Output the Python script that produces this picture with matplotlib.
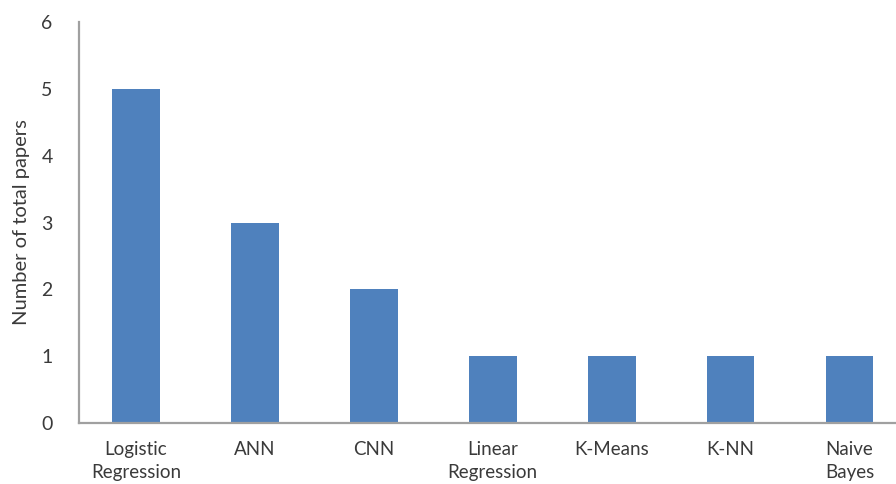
import matplotlib
matplotlib.use("Agg")
import matplotlib.pyplot as plt

# Number of papers per machine-learning method
methods = ["Logistic\nRegression", "ANN", "CNN", "Linear\nRegression",
           "K-Means", "K-NN", "Naive\nBayes"]
paper_counts = [5, 3, 2, 1, 1, 1, 1]
y_ticks = [0, 1, 2, 3, 4, 5, 6]

plt.rcParams["font.family"] = ["Lato", "DejaVu Sans"]

fig = plt.figure(figsize=(8.96, 4.84), dpi=100)
ax = fig.add_axes([0.0882, 0.126, 0.9118, 0.8285])

x = range(len(methods))
ax.bar(x, paper_counts, width=0.40, color="#4F81BD", zorder=2)

ax.set_xlim(-0.479, 6.39)
ax.set_ylim(0, 6)
ax.set_yticks(y_ticks)
ax.set_xticks(list(x))
ax.set_xticklabels(methods, fontsize=13.5, color="#3A3A3A", linespacing=1.45,
                   va="top")
ax.set_yticklabels([str(v) for v in y_ticks], fontsize=14, color="#3A3A3A")
ax.tick_params(axis="x", length=0, pad=13)
ax.tick_params(axis="y", length=0, pad=19)

for side in ("top", "right"):
    ax.spines[side].set_visible(False)
for side in ("left", "bottom"):
    ax.spines[side].set_color("#A0A0A0")
    ax.spines[side].set_linewidth(1.6)

ax.set_ylabel("Number of total papers", fontsize=14.5, color="#3A3A3A")
ax.yaxis.set_label_coords(-0.06, 0.5)

fig.savefig("out.png", dpi=100)
